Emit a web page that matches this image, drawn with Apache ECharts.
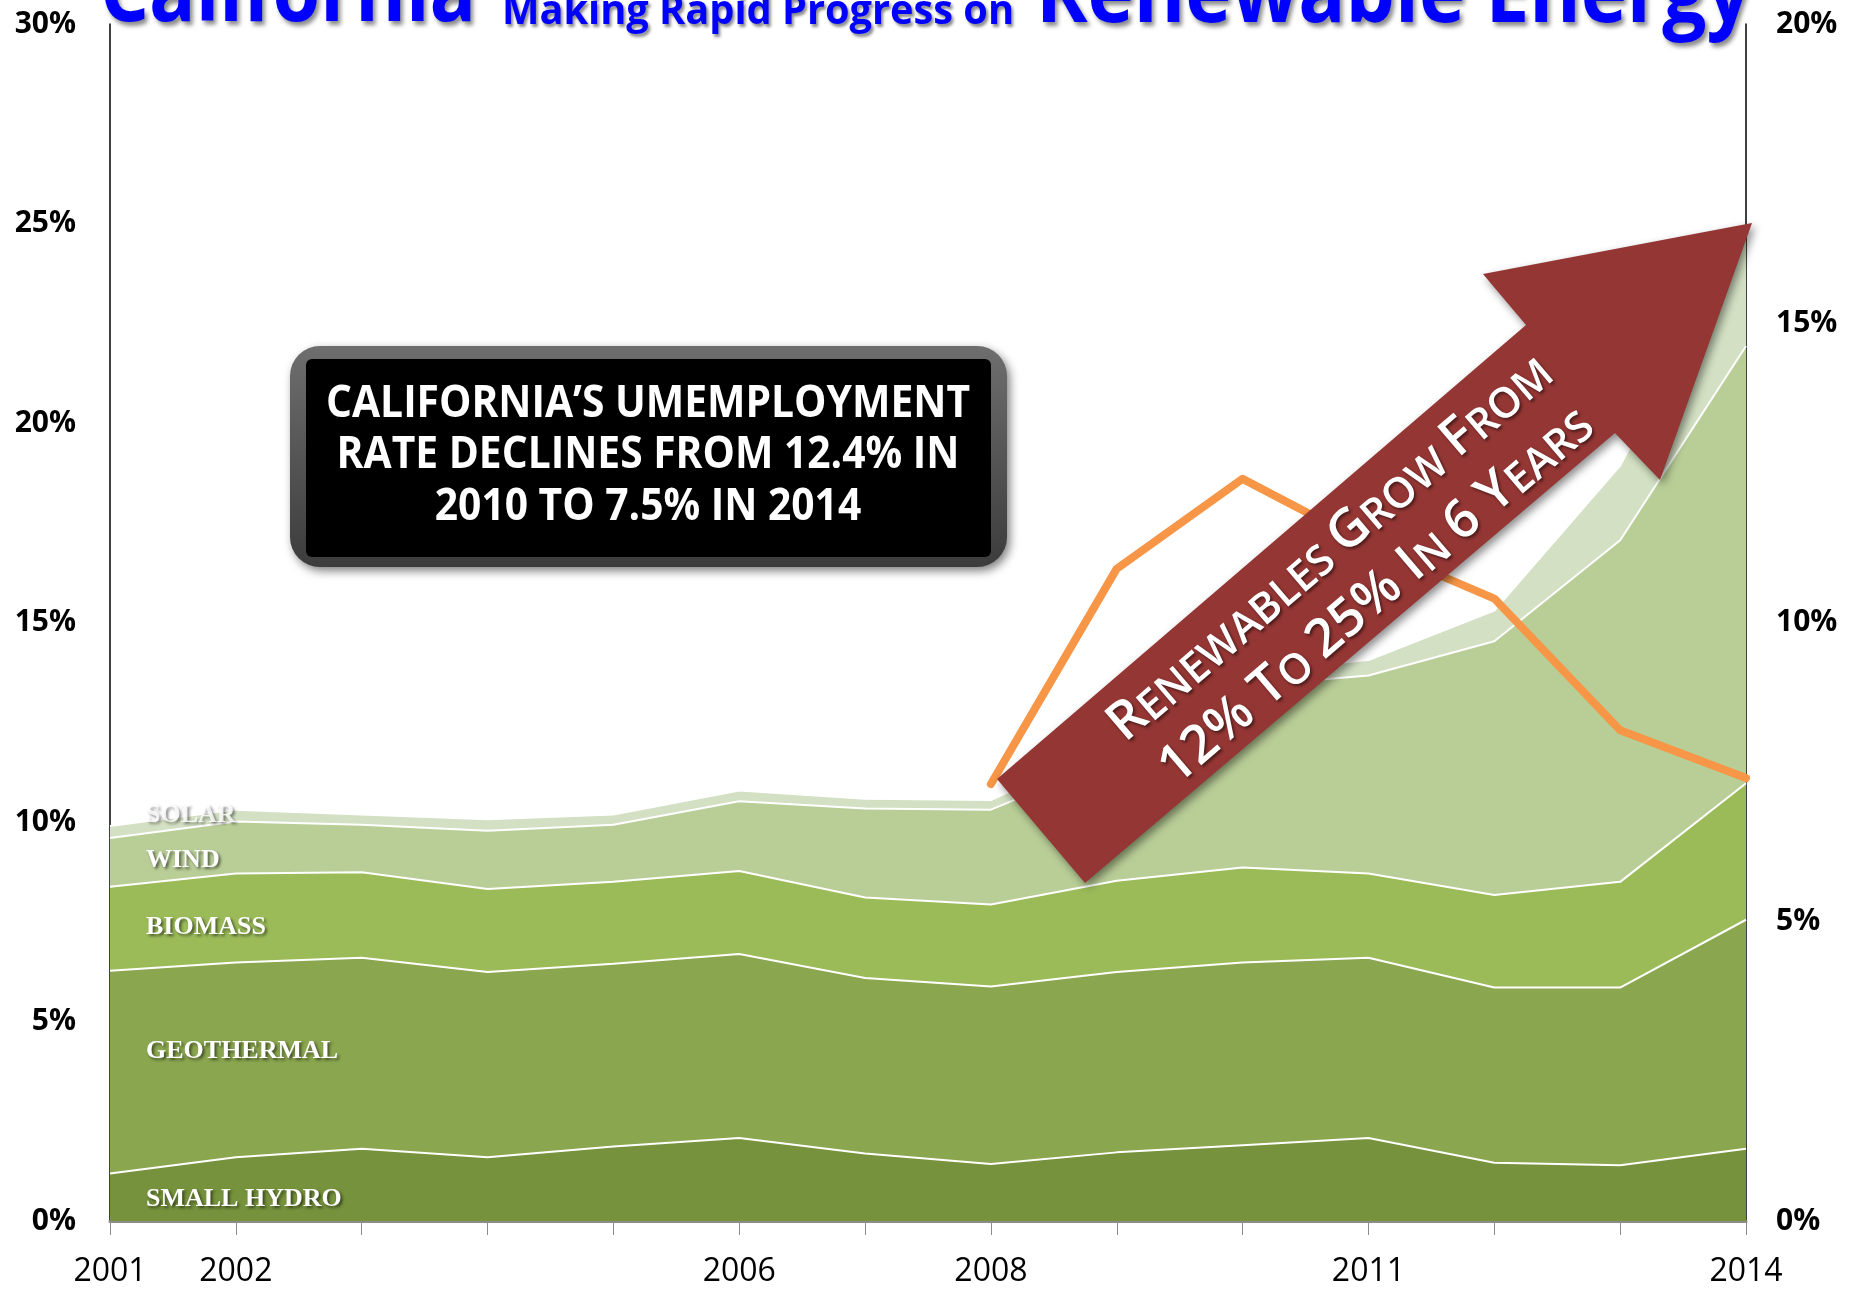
<!DOCTYPE html>
<html><head><meta charset="utf-8">
<script src="https://cdn.jsdelivr.net/npm/echarts@6/dist/echarts.min.js"></script>
<style>html,body{margin:0;padding:0;background:#fff}#c{width:1859px;height:1290px}</style>
</head><body><div id="c"></div>
<script>
const years = ['2001','2002','2003','2004','2005','2006','2007','2008','2009','2010','2011','2012','2013','2014'];
const labeledYears = ['2001','2002','2006','2008','2011','2014'];
const smallHydro = [1.19,1.60,1.81,1.60,1.87,2.08,1.69,1.43,1.72,1.90,2.08,1.46,1.40,1.81];
const geothermal = [5.08,4.88,4.79,4.64,4.58,4.61,4.40,4.45,4.52,4.58,4.52,4.39,4.45,5.74];
const biomass    = [2.11,2.23,2.14,2.08,2.05,2.08,2.02,2.05,2.29,2.38,2.11,2.32,2.65,3.42];
const wind       = [1.22,1.30,1.19,1.46,1.43,1.75,2.23,2.38,3.07,4.54,4.96,6.36,8.56,10.96];
const solar      = [0.30,0.30,0.26,0.29,0.26,0.27,0.24,0.24,0.40,0.35,0.39,0.77,1.87,3.03];
const unemployment = [null,null,null,null,null,null,null,7.3,10.9,12.4,11.3,10.4,8.2,7.4];
const layerNames = ['SMALL HYDRO','GEOTHERMAL','BIOMASS','WIND','SOLAR'];
const layerColors = ['#76923C','#8AA64F','#9BBB59','#B9CE97','#D3E0C3'];
const layerData = [smallHydro, geothermal, biomass, wind, solar];

const chart = echarts.init(document.getElementById('c'), null, {renderer:'canvas'});
const FONT = "'Open Sans', 'DejaVu Sans', sans-serif";

const mctx = document.createElement('canvas').getContext('2d');
function fitScale(text, font, targetWidth) {
  mctx.font = font;
  return targetWidth / mctx.measureText(text).width;
}

const areaSeries = layerData.map((d, i) => ({
  name: layerNames[i], type: 'line', stack: 'renew', data: d,
  symbol: 'none', smooth: false,
  lineStyle: {color: '#ffffff', width: 2},
  itemStyle: {color: layerColors[i]},
  areaStyle: {color: layerColors[i], opacity: 1},
  z: 2
}));

const LABEL_FONT = "bold 26px 'Liberation Serif', 'DejaVu Serif', serif";
const labelStyle = (txt, x, y, op) => ({
  type: 'text', x: x, y: y, z: 5,
  style: {text: txt, fill: op ? 'rgba(255,255,255,0.85)' : '#ffffff',
    font: LABEL_FONT, verticalAlign: 'middle', align: 'left',
    textShadowColor: 'rgba(0,0,0,0.55)', textShadowBlur: 3, textShadowOffsetX: 2, textShadowOffsetY: 2}
});

const titleText = (txt, x, ymid, size, width, shadow) => {
  const font = 'bold ' + size + 'px ' + FONT;
  return {type: 'text', x: x, y: ymid, z: 20, scaleX: fitScale(txt, font, width),
    style: {text: txt, fill: '#0000FF', font: font, verticalAlign: 'middle', align: 'left',
      textShadowColor: 'rgba(0,0,0,0.45)', textShadowBlur: shadow, textShadowOffsetX: shadow * 0.7, textShadowOffsetY: shadow}};
};

const BOX_FONT = 'bold 45px ' + FONT;
const boxLines = ['CALIFORNIA\u2019S UMEMPLOYMENT', 'RATE DECLINES FROM 12.4% IN', '2010 TO 7.5% IN 2014'];
const boxScale = fitScale(boxLines[0], BOX_FONT, 644);

const arrowPts = [[997,779],[1526,325],[1483,274],[1752,223],[1660,480],[1615,433],[1085,883]];
const rot = 40.5 * Math.PI / 180;
const arrowRich = {
  b: {fontSize: 53, fontFamily: FONT, fontWeight: 600, fill: '#ffffff', verticalAlign: 'bottom'},
  s: {fontSize: 42, fontFamily: FONT, fontWeight: 600, fill: '#ffffff', verticalAlign: 'bottom'}
};

const option = {
  animation: false,
  backgroundColor: '#ffffff',
  grid: {left: 110, right: 113, top: 24, bottom: 69},
  xAxis: {
    type: 'category', data: years, boundaryGap: false,
    axisLine: {show: true, lineStyle: {color: '#8c8c8c', width: 3}},
    axisTick: {show: true, interval: 0, length: 14, lineStyle: {color: '#8c8c8c', width: 1}},
    axisLabel: {
      interval: (idx, val) => labeledYears.indexOf(val) >= 0,
      color: '#000', fontFamily: FONT, fontSize: 32, margin: 35
    },
    splitLine: {show: false}
  },
  yAxis: [
    {type: 'value', min: 0, max: 30, interval: 5,
     axisLine: {show: true, lineStyle: {color: '#000', width: 1.5}},
     axisTick: {show: false}, splitLine: {show: false},
     axisLabel: {formatter: '{value}%', color: '#000', fontFamily: FONT, fontWeight: 'bold', fontSize: 30, margin: 34}},
    {type: 'value', min: 0, max: 20, interval: 5, position: 'right',
     axisLine: {show: true, lineStyle: {color: '#000', width: 1.5}},
     axisTick: {show: false}, splitLine: {show: false},
     axisLabel: {formatter: '{value}%', color: '#000', fontFamily: FONT, fontWeight: 'bold', fontSize: 30, margin: 30}}
  ],
  series: areaSeries.concat([{
    name: 'Unemployment', type: 'line', yAxisIndex: 1, data: unemployment,
    symbol: 'none', connectNulls: false,
    lineStyle: {color: '#F79646', width: 8, cap: 'round', join: 'round'},
    itemStyle: {color: '#F79646'}, z: 4
  }]),
  graphic: [
    // title
    titleText('California', 100, -4, 86, 376, 4),
    titleText('Making Rapid Progress on', 502, 12, 41, 512, 3),
    titleText('Renewable Energy', 1036, -3, 88, 715, 4),
    // layer labels
    labelStyle('SOLAR', 146, 815, true),
    labelStyle('WIND', 146, 860),
    labelStyle('BIOMASS', 146, 927),
    labelStyle('GEOTHERMAL', 146, 1051),
    labelStyle('SMALL HYDRO', 146, 1199),
    // arrow
    {type: 'polygon', z: 10, shape: {points: arrowPts},
     style: {fill: '#943634', shadowBlur: 8, shadowColor: 'rgba(0,0,0,0.45)', shadowOffsetX: 3, shadowOffsetY: 4}},
    {type: 'text', x: 1330, y: 548, rotation: rot, z: 11,
     style: {text: '{b|R}{s|ENEWABLES} {b|G}{s|ROW} {b|F}{s|ROM}', rich: arrowRich,
       fontSize: 42, fontFamily: FONT, fill: '#fff', align: 'center', verticalAlign: 'middle',
       textShadowColor: 'rgba(0,0,0,0.5)', textShadowBlur: 3, textShadowOffsetX: 2, textShadowOffsetY: 2}},
    {type: 'text', x: 1376, y: 596, rotation: rot, z: 11,
     style: {text: '{b|12% T}{s|O} {b|25% I}{s|N} {b|6 Y}{s|EARS}', rich: arrowRich,
       fontSize: 42, fontFamily: FONT, fill: '#fff', align: 'center', verticalAlign: 'middle',
       textShadowColor: 'rgba(0,0,0,0.5)', textShadowBlur: 3, textShadowOffsetX: 2, textShadowOffsetY: 2}},
    // box
    {type: 'rect', z: 12, shape: {x: 290, y: 346, width: 717, height: 221, r: 30},
     style: {fill: new echarts.graphic.LinearGradient(0,0,0,1,[{offset:0,color:'#6e6e6e'},{offset:1,color:'#3c3c3c'}]),
       shadowBlur: 10, shadowColor: 'rgba(0,0,0,0.5)', shadowOffsetX: 3, shadowOffsetY: 4}},
    {type: 'rect', z: 13, shape: {x: 306, y: 359, width: 685, height: 198, r: 6}, style: {fill: '#000'}},
    {type: 'text', x: 648, y: 404, z: 14, scaleX: boxScale, style: {text: boxLines[0], fill: '#fff',
      font: BOX_FONT, align: 'center', verticalAlign: 'middle'}},
    {type: 'text', x: 648, y: 455, z: 14, scaleX: boxScale, style: {text: boxLines[1], fill: '#fff',
      font: BOX_FONT, align: 'center', verticalAlign: 'middle'}},
    {type: 'text', x: 648, y: 507, z: 14, scaleX: boxScale, style: {text: boxLines[2], fill: '#fff',
      font: BOX_FONT, align: 'center', verticalAlign: 'middle'}}
  ]
};
chart.setOption(option);
</script></body></html>
